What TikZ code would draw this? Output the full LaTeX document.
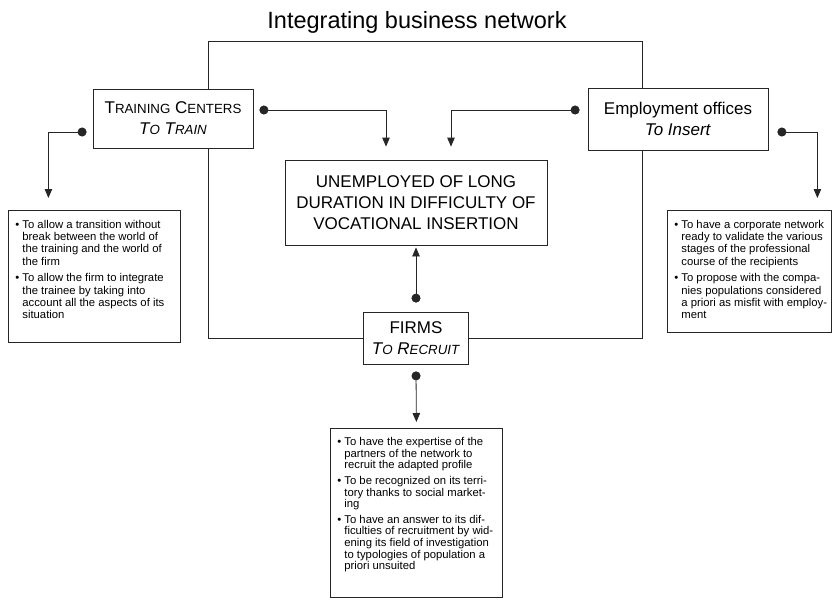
\documentclass[tikz,border=0pt]{standalone}
\usepackage{fontspec}
\setmainfont{Liberation Sans}
\usetikzlibrary{arrows.meta}
\newcommand{\sck}[1]{{\fontsize{13.3}{14}\selectfont #1}}
\newcommand{\notefont}{\fontsize{11.3}{12.4}\selectfont}
\newcommand{\bul}[1]{\noindent\makebox[7pt][l]{\textbullet}\begin{tabular}[t]{@{}l@{}}#1\end{tabular}\par\vspace{3pt}}
\begin{document}
\begin{tikzpicture}[x=1pt,y=-1pt,
  box/.style={draw=black!85,line width=0.8pt,align=center,inner sep=0pt,font=\fontsize{17}{21}\selectfont},
  notebox/.style={draw=black!85,line width=0.8pt,inner xsep=7pt,inner ysep=9pt,anchor=north west},
  link/.style={black!85,line width=0.8pt,{Circle[length=9pt]}-{Triangle[length=9pt,width=7.5pt]}},
  frame/.style={black!85,line width=0.9pt}]
\useasboundingbox (0,0) rectangle (833,600);
% Title
\node[font=\fontsize{23.5}{28}\selectfont] (title) at (417,22) {Integrating business network};
% Actors
\node[box,minimum width=160pt,minimum height=59pt] (train) at (173,118.5) {T\sck{RAINING} C\sck{ENTERS}\\\textit{T\sck{O} T\sck{RAIN}}};
\node[box,minimum width=180pt,minimum height=62pt] (emp) at (678,119) {Employment offices\\\textit{To Insert}};
\node[box,minimum width=262pt,minimum height=85pt] (unemp) at (416,202.5) {UNEMPLOYED OF LONG\\DURATION IN DIFFICULTY OF\\VOCATIONAL INSERTION};
\node[box,minimum width=105pt,minimum height=52pt] (firms) at (416,338) {FIRMS\\\textit{T\sck{O} R\sck{ECRUIT}}};
% Notes
\node[notebox] (trainnote) at (8,210) {\begin{minipage}[c][114pt][t]{158pt}\notefont
\bul{To allow a transition without\\break between the world of\\the training and the world of\\the firm}
\bul{To allow the firm to integrate\\the trainee by taking into\\account all the aspects of its\\situation}
\end{minipage}};
\node[notebox] (empnote) at (667,210) {\begin{minipage}[c][104pt][t]{150pt}\notefont
\bul{To have a corporate network\\ready to validate the various\\stages of the professional\\course of the recipients}
\bul{To propose with the compa-\\nies populations considered\\a priori as misfit with employ-\\ment}
\end{minipage}};
\node[notebox] (firmsnote) at (330,428) {\begin{minipage}[c][151pt][t]{158pt}\fontsize{11.3}{11.4}\selectfont
\bul{To have the expertise of the\\partners of the network to\\recruit the adapted profile}
\bul{To be recognized on its terri-\\tory thanks to social market-\\ing}
\bul{To have an answer to its dif-\\ficulties of recruitment by wid-\\ening its field of investigation\\to typologies of population a\\priori unsuited}
\end{minipage}};
% Network frame
\coordinate (frame-nw) at (208,41);
\coordinate (frame-ne) at (642,41);
\draw[frame] (train.north -| frame-nw) -- (frame-nw) -- (frame-ne) -- (emp.north -| frame-ne);
\draw[frame] (train.south -| frame-nw) |- (firms.west);
\draw[frame] (firms.east) -| (emp.south -| frame-ne);
% Links
\draw[link] ([xshift=-6pt,yshift=-13.5pt]train.west) -| ([xshift=-46pt,yshift=12pt]trainnote.north);
\draw[link] ([xshift=6pt,yshift=8.5pt]train.east) -| ([xshift=-30pt,yshift=13pt]unemp.north);
\draw[link] ([xshift=-8pt,yshift=9pt]emp.west) -| ([xshift=35pt,yshift=13pt]unemp.north);
\draw[link] ([xshift=9pt,yshift=-13pt]emp.east) -| ([xshift=68pt,yshift=12pt]empnote.north);
\draw[link] ([yshift=9pt]firms.north) -- ([yshift=-2pt]unemp.south);
\draw[link] ([yshift=-7pt]firms.south) -- ([yshift=6pt]firmsnote.north);
\end{tikzpicture}
\end{document}
